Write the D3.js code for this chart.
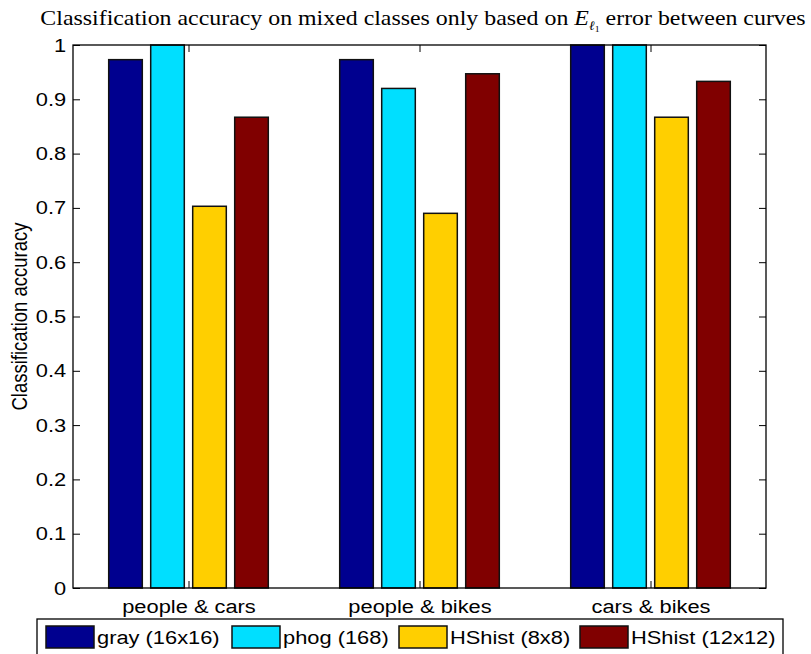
<!DOCTYPE html>
<html>
<head>
<meta charset="utf-8">
<script src="https://cdn.jsdelivr.net/npm/d3@7"></script>
<style>
  html, body { margin: 0; padding: 0; background: #fff; }
  svg { display: block; }
</style>
</head>
<body>
<svg id="chart" width="811" height="654"></svg>
<script>
// Pairs of classes being compared
const categories = ["people & cars", "people & bikes", "cars & bikes"];
// Feature descriptors (one bar per descriptor in each group)
const seriesNames = ["gray (16x16)", "phog (168)", "HShist (8x8)", "HShist (12x12)"];
const seriesColors = ["#00008F", "#00DFFF", "#FFCF00", "#800000"];
// Accuracy per descriptor, in category order
const grayValues   = [0.973, 0.973, 1.000];
const phogValues   = [1.000, 0.920, 1.000];
const hs8Values    = [0.703, 0.690, 0.867];
const hs12Values   = [0.867, 0.947, 0.933];
const yTicks = [0, 0.1, 0.2, 0.3, 0.4, 0.5, 0.6, 0.7, 0.8, 0.9, 1];

const series = [grayValues, phogValues, hs8Values, hs12Values];

const svg = d3.select("#chart");
const L = 73, R = 766, T = 45, B = 588;
const SANS = "Liberation Sans, Arial, sans-serif";
const FS = 19;          // label font size
const WIDEN = "scale(1.15,1)";  // slightly wide sans lettering

const x = d3.scaleLinear().domain([0.5, categories.length + 0.5]).range([L, R]);
const y = d3.scaleLinear().domain([0, 1]).range([B, T]);

// grouped-bar geometry in data units
const nS = series.length;
const groupW = Math.min(0.8, nS / (nS + 1.5));
const slot = groupW / nS;
const barW = slot * 0.8;

// bars
series.forEach((vals, si) => {
  svg.append("g").selectAll("rect")
    .data(vals)
    .join("rect")
    .attr("x", (d, ci) => x(ci + 1 - groupW / 2 + slot * si + (slot - barW) / 2))
    .attr("width", () => x(barW) - x(0))
    .attr("y", d => y(d))
    .attr("height", d => y(0) - y(d))
    .attr("fill", seriesColors[si])
    .attr("stroke", "#111")
    .attr("stroke-width", 1.5);
});

// axes box
const tickLen = 7;
const axL = d3.axisLeft(y).tickValues(yTicks).tickSizeInner(-tickLen).tickSizeOuter(0).tickPadding(6)
  .tickFormat(d => d === 0 || d === 1 ? String(d) : d3.format(".1f")(d));
const gL = svg.append("g").attr("transform", `translate(${L},0)`).call(axL);
gL.select(".domain").remove();
gL.selectAll("text").attr("font-family", SANS).attr("font-size", FS).attr("fill", "#000")
  .attr("transform", WIDEN);
gL.selectAll("line").attr("stroke", "#000");

const axR = d3.axisRight(y).tickValues(yTicks).tickSizeInner(-tickLen).tickSizeOuter(0).tickFormat("");
const gR = svg.append("g").attr("transform", `translate(${R},0)`).call(axR);
gR.select(".domain").remove();
gR.selectAll("line").attr("stroke", "#000");

const cats = categories.map((c, i) => i + 1);
const axB = d3.axisBottom(x).tickValues(cats).tickSizeInner(-tickLen).tickSizeOuter(0).tickPadding(12)
  .tickFormat((d) => categories[d - 1]);
const gB = svg.append("g").attr("transform", `translate(0,${B})`).call(axB);
gB.select(".domain").remove();
gB.selectAll("text").attr("font-family", SANS).attr("font-size", FS).attr("fill", "#000")
  .attr("transform", WIDEN);
gB.selectAll("line").attr("stroke", "#000");

const axT = d3.axisTop(x).tickValues(cats).tickSizeInner(-tickLen).tickSizeOuter(0).tickFormat("");
const gT = svg.append("g").attr("transform", `translate(0,${T})`).call(axT);
gT.select(".domain").remove();
gT.selectAll("line").attr("stroke", "#000");

svg.append("rect")
  .attr("x", L).attr("y", T).attr("width", R - L).attr("height", B - T)
  .attr("fill", "none").attr("stroke", "#000").attr("stroke-width", 1.3);

// y-axis title
svg.append("text")
  .attr("transform", `translate(27,${(T + B) / 2}) rotate(-90) scale(1,1.15)`)
  .attr("text-anchor", "middle")
  .attr("font-family", SANS)
  .attr("font-size", 18.5)
  .text("Classification accuracy");

// chart title (serif, with math subscript), stretched to span its line
const titleCx = 423, titleW = 766;
const title = svg.append("text")
  .attr("text-anchor", "middle")
  .attr("font-family", "Liberation Serif, DejaVu Serif, serif")
  .attr("font-size", 22);
title.append("tspan").text("Classification accuracy on mixed classes only based on ");
title.append("tspan").attr("font-style", "italic").text("E");
title.append("tspan").attr("font-style", "italic").attr("font-size", 13).attr("dy", 5).text("ℓ");
title.append("tspan").attr("font-size", 9).attr("dy", 2).text("1");
title.append("tspan").attr("dy", -7).text(" error between curves");
const tLen = title.node().getComputedTextLength();
title.attr("transform", `translate(${titleCx},25) scale(${titleW / tLen},1)`);

// legend
const legend = svg.append("g");
legend.append("rect")
  .attr("x", 37).attr("y", 619).attr("width", 746).attr("height", 45)
  .attr("fill", "#fff").attr("stroke", "#000").attr("stroke-width", 1.3);
const legendX = [46, 232, 399, 580];
seriesNames.forEach((name, i) => {
  legend.append("rect")
    .attr("x", legendX[i]).attr("y", 626).attr("width", 48).attr("height", 22)
    .attr("fill", seriesColors[i]).attr("stroke", "#111").attr("stroke-width", 1.5);
  legend.append("text")
    .attr("transform", `translate(${legendX[i] + 51},644) ${WIDEN}`)
    .attr("font-family", SANS)
    .attr("font-size", FS)
    .text(name);
});
</script>
</body>
</html>
